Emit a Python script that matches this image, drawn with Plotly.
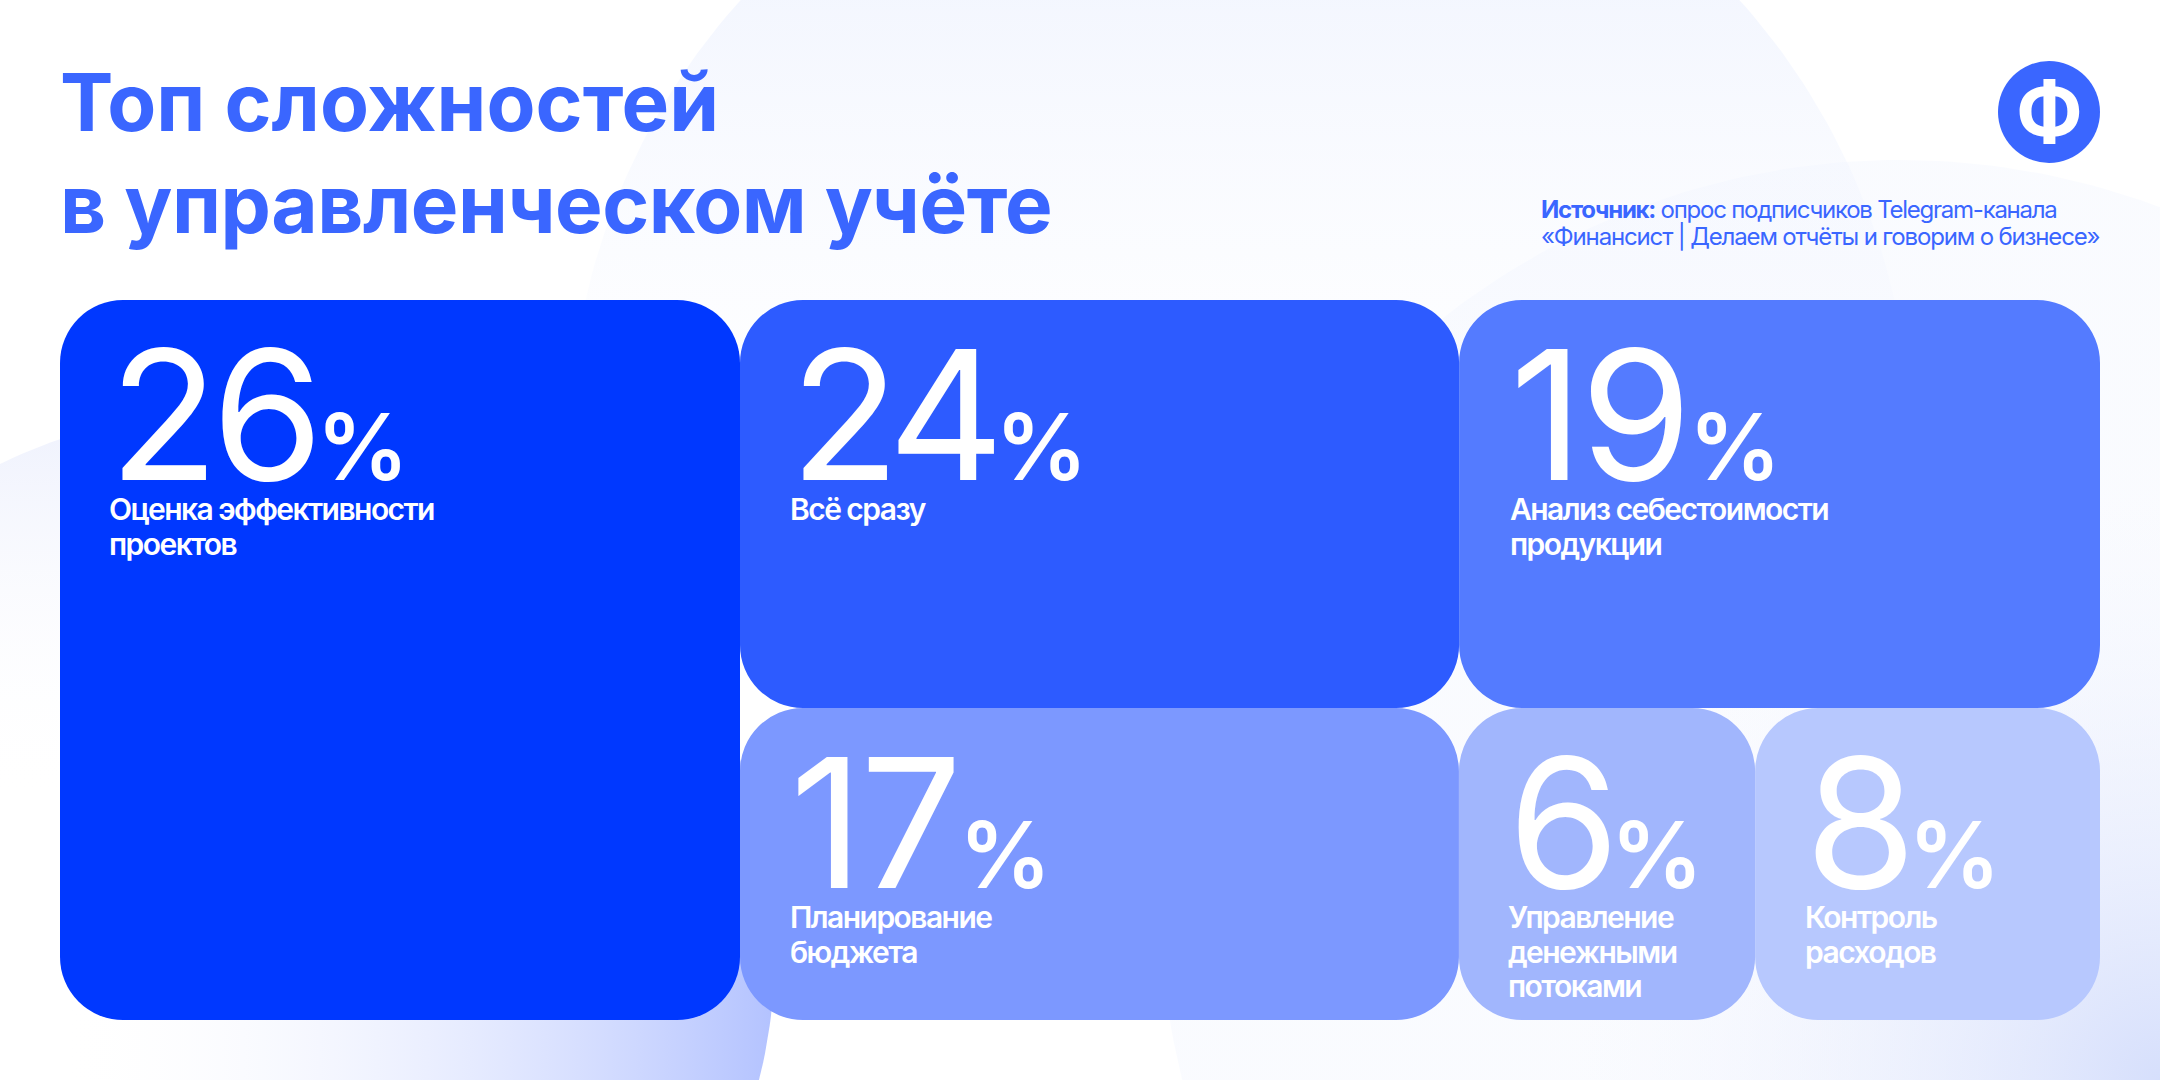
import numpy as np
import plotly.graph_objects as go

# ---- data ----
percents = [26, 24, 19, 17, 6, 8]
captions = [
    ["Оценка эффективности", "проектов"],
    ["Всё сразу"],
    ["Анализ себестоимости", "продукции"],
    ["Планирование", "бюджета"],
    ["Управление", "денежными", "потоками"],
    ["Контроль", "расходов"],
]
# tile areas (thousands of px^2): the tiles are not proportional to the percentages
tile_areas = [489.6, 293.4, 261.5, 224.3, 92.4, 107.6]
tile_colors = ["#0038FF", "#2D5BFF", "#547BFF", "#7C98FF", "#A1B6FD", "#B7C8FE"]
title_lines = ["Топ сложностей", "в управленческом учёте"]
source_lines = ["<b>Источник:</b> опрос подписчиков Telegram-канала",
                "«Финансист | Делаем отчёты и говорим о бизнесе»"]

W, H = 2160, 1080
BLUE = "#3A66FF"
FONT = "Inter"
CLEAR = "rgba(0,0,0,0)"

fig = go.Figure()

# ---- decorative background blobs ----
def blob(cx, cy, r, kind, start, stop, c0, c1):
    t = np.linspace(0, 2 * np.pi, 361)
    grad = dict(type=kind, colorscale=[[0, c0], [1, c1]])
    if kind != "radial":
        grad.update(start=start, stop=stop)
    fig.add_trace(go.Scatter(
        x=cx + r * np.cos(t), y=cy + r * np.sin(t), mode="lines", line=dict(width=0),
        fill="toself", hoverinfo="skip", showlegend=False, fillgradient=grad,
    ))

blob(1240, 448, 671, "vertical", 0, 620, "rgba(236,241,254,0.6)", "rgba(255,255,255,0)")
blob(1900, 900, 740, "vertical", 160, 700, "rgba(240,244,254,0.35)", "rgba(240,244,254,0.35)")
blob(2160, 1080, 680, "radial", 0, 0, "rgba(214,223,252,1)", "rgba(255,255,255,0)")
blob(235, 950, 540, "horizontal", 60, 770, "rgba(255,255,255,0)", "rgba(180,195,255,1)")
blob(235, 950, 540, "vertical", 410, 800, "rgba(238,241,253,1)", "rgba(255,255,255,0)")

# ---- treemap ----
leaf_ids = [f"t{p}" for p in percents]
ids = ["root", "t26", "right", "top", "bottom", "t24", "t19", "t17", "t6", "t8"]
parents = ["", "root", "root", "right", "right", "top", "top", "bottom", "bottom", "bottom"]
area = dict(zip(leaf_ids, tile_areas))
area["top"] = area["t24"] + area["t19"]
area["bottom"] = area["t17"] + area["t6"] + area["t8"]
area["right"] = area["top"] + area["bottom"]
area["root"] = area["right"] + area["t26"]
col = dict(zip(leaf_ids, tile_colors))
fig.add_trace(go.Treemap(
    ids=ids, parents=parents,
    labels=[f"{i[1:]}%" if i in leaf_ids else "" for i in ids],
    values=[area[i] for i in ids],
    branchvalues="total", sort=False, textinfo="none", hoverinfo="skip",
    textposition="middle center",
    domain=dict(x=[60 / W, 2100 / W], y=[60 / H, 780 / H]),
    tiling=dict(packing="slice-dice", pad=0),
    pathbar=dict(visible=False),
    root=dict(color=CLEAR),
    marker=dict(colors=[col.get(i, CLEAR) for i in ids], cornerradius=63,
                line=dict(width=0), pad=dict(t=0, l=0, r=0, b=0), depthfade=False),
))

# ---- text ----
ann = []
def text(x, y, s, size, weight=400, color="white", spacing=0, anchor="left"):
    ann.append(dict(x=x, y=y, xref="x", yref="y", xanchor=anchor, yanchor="bottom",
                    text=f'<span style="letter-spacing:{spacing}px">{s}</span>', showarrow=False, align="left",
                    font=dict(family=FONT, size=size, color=color, weight=weight),
                    borderpad=0, borderwidth=0))

caption_x = [110, 791, 1511, 791, 1509, 1806]
number_y = [480, 480, 480, 888, 888, 888]
number_tracking = [-7, -9, -3, -3, -9, -8]
for pct, cap, cx, ny, tr in zip(percents, captions, caption_x, number_y, number_tracking):
    text(cx - 1, ny + 42.5,
         f'{pct}<span style="font-size:92px;font-weight:600;letter-spacing:-3px">%</span>',
         180, 400, spacing=tr)
    for i, line in enumerate(cap):
        text(cx - 1, ny + 47 + 34.5 * i, line, 30, 600, spacing=-1.55)

text(60, 150, title_lines[0], 80, 700, BLUE, spacing=0.05)
text(60, 252, title_lines[1], 80, 700, BLUE, spacing=-0.45)
text(1541, 224, source_lines[0], 24, 400, BLUE, spacing=-1.25)
text(1541, 251, source_lines[1], 24, 400, BLUE, spacing=-1.15)
text(2049, 160, "Ф", 80, 700, "white", anchor="center")

fig.update_layout(
    width=W, height=H, margin=dict(l=0, r=0, t=0, b=0), showlegend=False,
    paper_bgcolor="white", plot_bgcolor=CLEAR,
    xaxis=dict(range=[0, W], visible=False, domain=[0, 1]),
    yaxis=dict(range=[H, 0], visible=False, domain=[0, 1]),
    annotations=ann,
    shapes=[dict(type="circle", xref="x", yref="y", x0=1998, x1=2100, y0=61, y1=163,
                 fillcolor=BLUE, line=dict(width=0), layer="below")],
)
fig.write_html("out.html", config=dict(displayModeBar=False),
               post_script="document.body.style.margin='0';")
